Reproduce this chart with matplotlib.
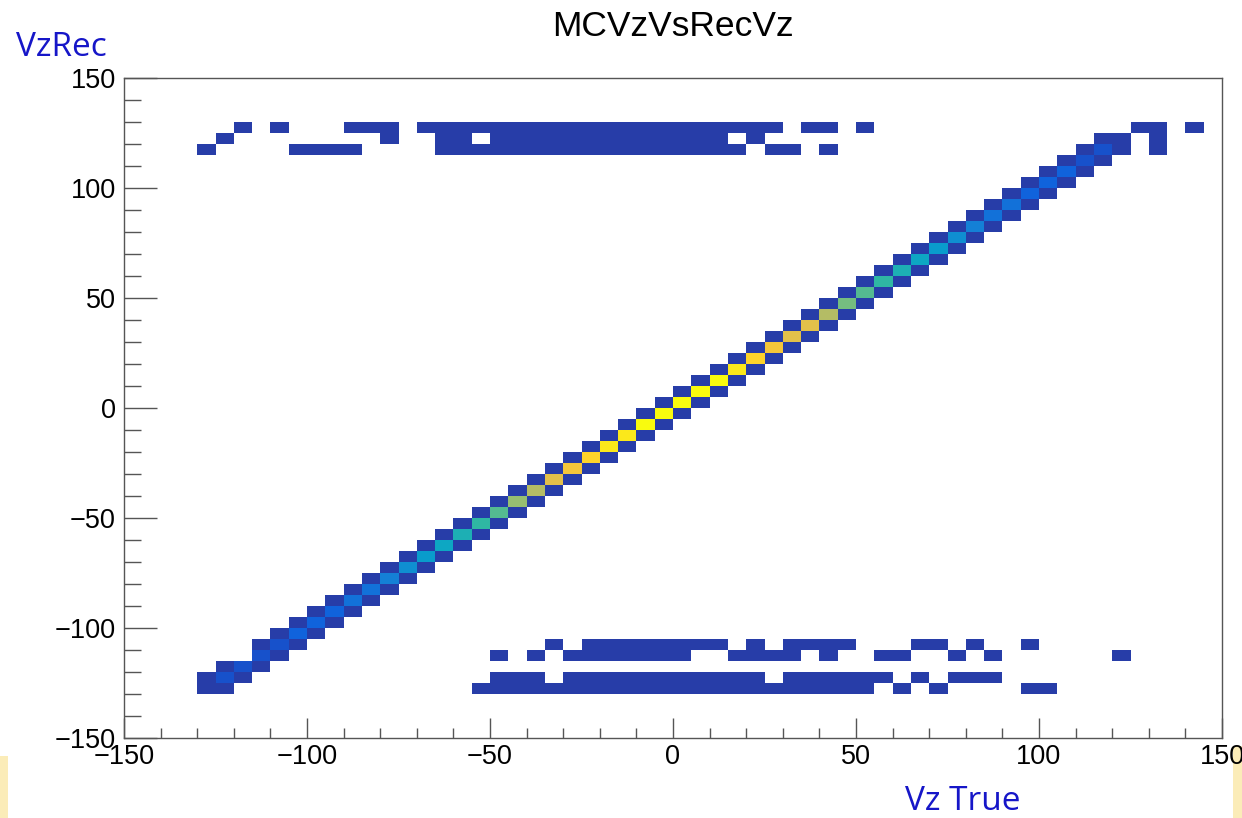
import numpy as np
import matplotlib
matplotlib.use("Agg")
import matplotlib.pyplot as plt
from matplotlib.colors import LinearSegmentedColormap, ListedColormap, BoundaryNorm
from matplotlib.ticker import MultipleLocator
from matplotlib.patches import Rectangle

# 60 x 60 bins of 5 cm from -150 to 150 on both axes
edges = np.arange(-150, 155, 5)

# diagonal band: lower bin edge in Vz True, counts of the Vz Rec = Vz True bin
diag_x = np.arange(-130, 125, 5)
diag_main = [4, 15, 14, 16, 18, 24, 26, 29, 33, 37,
             44, 53, 64, 73, 84, 95, 108, 122, 138, 153,
             164, 176, 185, 189, 194, 197, 200, 198, 193, 186,
             175, 166, 158, 151, 134, 118, 106, 94, 85, 75,
             64, 55, 46, 39, 35, 28, 25, 22, 17, 15,
             6]
# neighbouring bins one below / one above the diagonal
diag_below = [0, 2, 2, 2, 2, 2, 2, 2, 2, 2,
              2, 2, 2, 2, 2, 2, 2, 2, 2, 2,
              2, 2, 2, 2, 2, 2, 2, 2, 2, 2,
              2, 2, 2, 2, 2, 2, 2, 2, 2, 2,
              2, 2, 2, 2, 2, 2, 2, 2, 2, 2,
              2]
diag_above = [2, 2, 0, 2, 2, 2, 2, 2, 2, 2,
              2, 2, 2, 2, 2, 2, 2, 2, 2, 2,
              2, 2, 2, 2, 2, 2, 2, 2, 2, 2,
              2, 2, 2, 2, 2, 2, 2, 2, 2, 2,
              2, 2, 2, 2, 2, 2, 2, 2, 2, 2,
              0]

# single-count bins away from the diagonal (lower edge of Vz True bin), per Vz Rec row
rec125_x = [-120, -110, -90, -85, -80, -70, -65, -60, -55, -50, -45, -40, -35, -30,
            -25, -20, -15, -10, -5, 0, 5, 10, 15, 20, 25, 35, 40, 50, 125, 130, 140]
rec120_x = [-125, -80, -65, -60, -50, -45, -40, -35, -30, -25, -20, -15, -10, -5,
            0, 5, 10, 20, 130]
rec115_x = [-130, -105, -100, -95, -90, -65, -60, -55, -50, -45, -40, -35, -30, -25,
            -20, -15, -10, -5, 0, 5, 10, 15, 25, 30, 40, 130]
recm110_x = [-35, -25, -20, -15, -10, -5, 0, 5, 10, 20, 30, 35, 40, 45, 65, 70, 80, 95]
recm115_x = [-50, -40, -30, -25, -20, -15, -10, -5, 0, 15, 20, 25, 30, 40, 55, 60,
             75, 85, 120]
recm125_x = [-50, -45, -40, -30, -25, -20, -15, -10, -5, 0, 5, 10, 15, 20, 30, 35,
             40, 45, 50, 55, 65, 75, 80, 85]
recm130_x = [-55, -50, -45, -40, -35, -30, -25, -20, -15, -10, -5, 0, 5, 10, 15, 20,
             25, 30, 35, 40, 45, 50, 60, 70, 95, 100]

# collect bin centres and weights, then fill the histogram
xs, ys, ws = [], [], []
for x, m, b, a in zip(diag_x, diag_main, diag_below, diag_above):
    for dy, w in ((0, m), (-5, b), (5, a)):
        if w > 0:
            xs.append(x + 2.5)
            ys.append(x + dy + 2.5)
            ws.append(w)
for row, cols in ((125, rec125_x), (120, rec120_x), (115, rec115_x),
                  (-110, recm110_x), (-115, recm115_x), (-125, recm125_x), (-130, recm130_x)):
    for x in cols:
        xs.append(x + 2.5)
        ys.append(row + 2.5)
        ws.append(1)

H, _, _ = np.histogram2d(xs, ys, bins=[edges, edges], weights=ws)
H = np.ma.masked_equal(H.T, 0)

# ROOT kBird palette, 20 contour levels
stops = [0.0, 0.125, 0.25, 0.375, 0.5, 0.625, 0.75, 0.875, 1.0]
red = [0.2082, 0.0592, 0.0780, 0.0232, 0.1802, 0.5301, 0.8186, 0.9956, 0.9764]
green = [0.1664, 0.3599, 0.5041, 0.6419, 0.7178, 0.7492, 0.7328, 0.7862, 0.9832]
blue = [0.5293, 0.8684, 0.8385, 0.7914, 0.6425, 0.4662, 0.3499, 0.1968, 0.0539]
bird = LinearSegmentedColormap.from_list(
    "bird", [(s, (r, g, b)) for s, r, g, b in zip(stops, red, green, blue)])
nlev = 20
level_cols = [bird(int((k + 0.99) * 255 / nlev) / 254) for k in range(nlev)]
cmap = ListedColormap(level_cols)
zmax = H.max()
norm = BoundaryNorm(np.linspace(0, zmax * 1.0001, nlev + 1), nlev)

fig = plt.figure(figsize=(12.42, 8.18), dpi=100)

# faint yellow glow at the lower corners of the slide
fig.patches.append(Rectangle((0, 0), 8 / 1242, 62 / 818, transform=fig.transFigure,
                             color="#fbe8a6", alpha=0.8, lw=0, zorder=-1))
fig.patches.append(Rectangle(((1242 - 9) / 1242, 0), 9 / 1242, 72 / 818,
                             transform=fig.transFigure, color="#fbe8a6", alpha=0.8,
                             lw=0, zorder=-1))

ax = fig.add_axes([124 / 1242, 80 / 818, 1098 / 1242, 660 / 818])
ax.pcolormesh(edges, edges, H, cmap=cmap, norm=norm)

ax.set_xlim(-150, 150)
ax.set_ylim(-150, 150)
ax.xaxis.set_major_locator(MultipleLocator(50))
ax.xaxis.set_minor_locator(MultipleLocator(10))
ax.yaxis.set_major_locator(MultipleLocator(50))
ax.yaxis.set_minor_locator(MultipleLocator(10))
ax.tick_params(which="both", direction="in", top=False, right=False,
               color="#555555", width=1, labelsize=19.5)
ax.tick_params(axis="x", which="major", length=14.4, pad=4)
ax.tick_params(axis="x", which="minor", length=7.2)
ax.tick_params(axis="y", which="major", length=23.8, pad=6)
ax.tick_params(axis="y", which="minor", length=11.9)
for lab in ax.get_xticklabels() + ax.get_yticklabels():
    lab.set_fontfamily("Liberation Sans")
for sp in ax.spines.values():
    sp.set_color("#555555")
    sp.set_linewidth(1)

fig.text(673 / 1242, 1 - 27 / 818, "MCVzVsRecVz", ha="center", va="center",
         fontsize=25.5, family="Liberation Sans")
fig.text(16 / 1242, 1 - 48 / 818, "VzRec", ha="left", va="center",
         fontsize=24, family="Open Sans", color="#1616c8")
fig.text(905 / 1242, 1 - 801 / 818, "Vz True", ha="left", va="center",
         fontsize=24, family="Open Sans", color="#1616c8")

fig.savefig("out.png", dpi=100)
